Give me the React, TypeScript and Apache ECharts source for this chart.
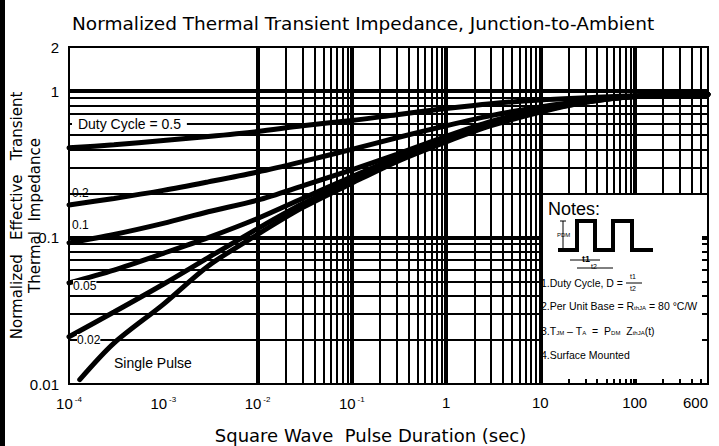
import React, { useEffect, useRef } from "react";
import * as echarts from "echarts";

// ---------- data ----------
const xTickValues = [1e-4, 1e-3, 1e-2, 1e-1, 1, 10, 100, 600];
const yTickValues = [0.01, 0.1, 1, 2];

// pulse duration samples (sec)
const tSamples = [1e-4, 3e-4, 1e-3, 3e-3, 1e-2, 3e-2, 0.1, 0.3, 1, 3, 10, 30, 100, 600];

const zD05 = [0.41, 0.43, 0.46, 0.49, 0.53, 0.58, 0.63, 0.69, 0.76, 0.82, 0.87, 0.9, 0.93, 0.95];
const zD02 = [0.167, 0.185, 0.21, 0.24, 0.28, 0.33, 0.4, 0.48, 0.58, 0.68, 0.78, 0.86, 0.92, 0.95];
const zD01 = [0.092, 0.105, 0.125, 0.15, 0.18, 0.225, 0.29, 0.37, 0.49, 0.62, 0.75, 0.85, 0.92, 0.95];
const zD005 = [0.049, 0.06, 0.078, 0.1, 0.135, 0.185, 0.26, 0.35, 0.47, 0.6, 0.74, 0.85, 0.92, 0.95];
const zD002 = [0.021, 0.031, 0.048, 0.073, 0.115, 0.17, 0.245, 0.34, 0.46, 0.59, 0.73, 0.84, 0.92, 0.95];
const tSingle = [1.3e-4, 3e-4, 1e-3, 3e-3, 1e-2, 3e-2, 0.1, 0.3, 1, 3, 10, 30, 100, 600];
const zSingle = [0.0107, 0.019, 0.035, 0.064, 0.105, 0.16, 0.235, 0.33, 0.45, 0.58, 0.72, 0.84, 0.92, 0.95];

const curveNames = ["0.5", "0.2", "0.1", "0.05", "0.02", "Single Pulse"];

// grid line values
const xMajorGrid = [1e-3, 1e-2, 1e-1, 1, 10, 100];
const yMajorGrid = [0.1, 1];
const gridMultipliers = [2, 3, 4, 5, 6, 7, 8, 9];
const xDecades = [1e-4, 1e-3, 1e-2, 1e-1, 1, 10, 100];
const yDecades = [0.01, 0.1, 1];

const FONT = "Liberation Sans, Arial, sans-serif";
const WIDE = "DejaVu Sans, sans-serif";

export default function App() {
  const ref = useRef<HTMLDivElement>(null);

  useEffect(() => {
    if (!ref.current) return;
    const chart = echarts.init(ref.current, undefined, { renderer: "svg" });

    const xMinor: number[] = [];
    xDecades.forEach((d) =>
      gridMultipliers.forEach((m) => {
        const v = d * m;
        if (v < 600) xMinor.push(v);
      })
    );
    const yMinor: number[] = [];
    yDecades.forEach((d) =>
      gridMultipliers.forEach((m) => {
        const v = d * m;
        if (v < 2) yMinor.push(v);
      })
    );

    const pair = (xs: number[], ys: number[]) => xs.map((x, i) => [x, ys[i]]);
    const curves = [
      pair(tSamples, zD05),
      pair(tSamples, zD02),
      pair(tSamples, zD01),
      pair(tSamples, zD005),
      pair(tSamples, zD002),
      pair(tSingle, zSingle),
    ];

    const supMap: Record<string, string> = {
      "0.0001": "-4",
      "0.001": "-3",
      "0.01": "-2",
      "0.1": "-1",
    };

    const option: any = {
      animation: false,
      backgroundColor: "#ffffff",
      title: {
        text: "Normalized Thermal Transient Impedance, Junction-to-Ambient",
        left: 67,
        top: 9,
        textStyle: { fontFamily: WIDE, fontSize: 18.5, fontWeight: "normal", color: "#000" },
      },
      grid: { left: 69, right: 11, top: 47, bottom: 62, containLabel: false, outerBoundsMode: "none" },
      xAxis: {
        type: "log",
        logBase: 10,
        min: 1e-4,
        max: 600,
        name: "Square Wave  Pulse Duration (sec)",
        nameLocation: "middle",
        nameGap: 42,
        nameMoveOverlap: false,
        nameTextStyle: { fontFamily: WIDE, fontSize: 18, color: "#000", padding: [0, 36, 0, 0] },
        axisLine: { show: true, lineStyle: { color: "#000", width: 2 } },
        axisTick: { show: false },
        splitLine: { show: false },
        axisLabel: {
          customValues: xTickValues,
          margin: 11,
          color: "#000",
          fontFamily: FONT,
          fontSize: 15,
          alignMaxLabel: "right",
          formatter: (v: number) => {
            const key = String(+v.toPrecision(6));
            if (supMap[key]) return "10{sup|" + supMap[key] + "}";
            return String(Math.round(v));
          },
          rich: {
            sup: { fontSize: 8, fontFamily: FONT, color: "#000", verticalAlign: "top", padding: [0, 0, 8, 2] },
          },
        },
      },
      yAxis: {
        type: "log",
        logBase: 10,
        min: 0.01,
        max: 2,
        name: "Normalized   Effective   Transient\nThermal  Impedance",
        nameLocation: "middle",
        nameRotate: 90,
        nameGap: 25,
        nameMoveOverlap: false,
        nameTextStyle: { fontFamily: WIDE, fontSize: 15, color: "#000", lineHeight: 18 },
        axisLine: { show: true, lineStyle: { color: "#000", width: 2 } },
        axisTick: { show: false },
        splitLine: { show: false },
        axisLabel: {
          customValues: yTickValues,
          margin: 10,
          color: "#000",
          fontFamily: FONT,
          fontSize: 15,
          formatter: (v: number) => String(+v.toPrecision(6)),
        },
      },
      series: [
        {
          type: "line",
          name: "grid-minor",
          data: [],
          z: 1,
          silent: true,
          markLine: {
            silent: true,
            symbol: "none",
            animation: false,
            label: { show: false },
            lineStyle: { color: "#000", width: 2, type: "solid" },
            data: [
              ...xMinor.map((v) => ({ xAxis: v })),
              ...yMinor.map((v) => ({ yAxis: v })),
            ],
          },
        },
        {
          type: "line",
          name: "grid-major",
          data: [],
          z: 1,
          silent: true,
          markLine: {
            silent: true,
            symbol: "none",
            animation: false,
            label: { show: false },
            lineStyle: { color: "#000", width: 4, type: "solid" },
            data: [
              ...xMajorGrid.map((v) => ({ xAxis: v })),
              ...yMajorGrid.map((v) => ({ yAxis: v })),
            ],
          },
        },
        ...curves.map((d, i) => ({
          type: "line",
          name: curveNames[i],
          data: d,
          smooth: 0.3,
          showSymbol: false,
          z: 3,
          lineStyle: { color: "#000", width: 5, cap: "round" },
        })),
      ],
      graphic: [
        // scan edge
        { type: "rect", shape: { x: 0, y: 0, width: 5, height: 446 }, style: { fill: "#000" }, z: 100 },
        // plot border
        {
          type: "rect",
          shape: { x: 69, y: 47, width: 639, height: 337 },
          style: { fill: "none", stroke: "#000", lineWidth: 2 },
          z: 50,
        },
        // curve labels
        {
          type: "text",
          x: 72,
          y: 116,
          z: 60,
          style: {
            text: " Duty Cycle = 0.5 ",
            font: "14px " + FONT,
            fill: "#000",
            backgroundColor: "#fff",
            padding: [1, 2, 1, 2],
          },
        },
        { type: "text", x: 72, y: 187, z: 60, style: { text: "0.2", font: "12px " + FONT, fill: "#000" } },
        { type: "text", x: 72, y: 219, z: 60, style: { text: "0.1", font: "12px " + FONT, fill: "#000" } },
        { type: "text", x: 73, y: 280, z: 60, style: { text: "0.05", font: "12px " + FONT, fill: "#000", backgroundColor: "#fff" } },
        { type: "text", x: 77, y: 334, z: 60, style: { text: "0.02", font: "12px " + FONT, fill: "#000", backgroundColor: "#fff" } },
        { type: "text", x: 114, y: 356, z: 60, style: { text: "Single Pulse", font: "14px " + FONT, fill: "#000", backgroundColor: "#fff" } },
        // Notes box
        { type: "rect", shape: { x: 543, y: 195, width: 159, height: 184 }, style: { fill: "#fff" }, z: 40 },
        { type: "text", x: 548, y: 200, z: 60, style: { text: "Notes:", font: "18px " + FONT, fill: "#000" } },
        {
          type: "polyline",
          z: 60,
          shape: { points: [[558, 250], [577, 250], [577, 221], [595, 221], [595, 250], [613, 250], [613, 221], [632, 221], [632, 250], [653, 250]] },
          style: { stroke: "#000", lineWidth: 4, fill: "none" },
        },
        { type: "line", z: 60, shape: { x1: 563, y1: 221, x2: 563, y2: 250 }, style: { stroke: "#000", lineWidth: 1 } },
        { type: "line", z: 60, shape: { x1: 560, y1: 221, x2: 566, y2: 221 }, style: { stroke: "#000", lineWidth: 1 } },
        { type: "text", x: 557, y: 232, z: 60, style: { text: "PDM", font: "6px " + FONT, fill: "#000" } },
        { type: "line", z: 60, shape: { x1: 570, y1: 260, x2: 600, y2: 260 }, style: { stroke: "#000", lineWidth: 1 } },
        { type: "text", x: 582, y: 254, z: 60, style: { text: "t1", font: "bold 9px " + FONT, fill: "#000" } },
        { type: "line", z: 60, shape: { x1: 577, y1: 268, x2: 613, y2: 268 }, style: { stroke: "#000", lineWidth: 1 } },
        { type: "text", x: 591, y: 263, z: 60, style: { text: "t2", font: "7px " + FONT, fill: "#000" } },
        { type: "text", x: 541, y: 277, z: 60, style: { text: "1.Duty Cycle, D =", font: "10.5px " + FONT, fill: "#000" } },
        { type: "line", z: 60, shape: { x1: 626, y1: 283, x2: 642, y2: 283 }, style: { stroke: "#000", lineWidth: 1 } },
        { type: "text", x: 630, y: 273, z: 60, style: { text: "t1", font: "7px " + FONT, fill: "#000" } },
        { type: "text", x: 630, y: 285, z: 60, style: { text: "t2", font: "7px " + FONT, fill: "#000" } },
        {
          type: "text",
          x: 541,
          y: 300,
          z: 60,
          style: {
            text: "2.Per Unit Base = R{s|thJA} = 80 °C/W",
            font: "10.5px " + FONT,
            fill: "#000",
            rich: { s: { fontSize: 6, fontFamily: FONT, verticalAlign: "bottom" } },
          },
        },
        {
          type: "text",
          x: 541,
          y: 325,
          z: 60,
          style: {
            text: "3.T{s|JM} – T{s|A}  =  P{s|DM}  Z{s|thJA}(t)",
            font: "10.5px " + FONT,
            fill: "#000",
            rich: { s: { fontSize: 6, fontFamily: FONT, verticalAlign: "bottom" } },
          },
        },
        { type: "text", x: 541, y: 349, z: 60, style: { text: "4.Surface Mounted", font: "10.5px " + FONT, fill: "#000" } },
      ],
    };

    chart.setOption(option);
    return () => chart.dispose();
  }, []);

  return (
    <div
      ref={ref}
      style={{ position: "fixed", left: 0, top: 0, width: 719, height: 446, background: "#fff" }}
    />
  );
}
